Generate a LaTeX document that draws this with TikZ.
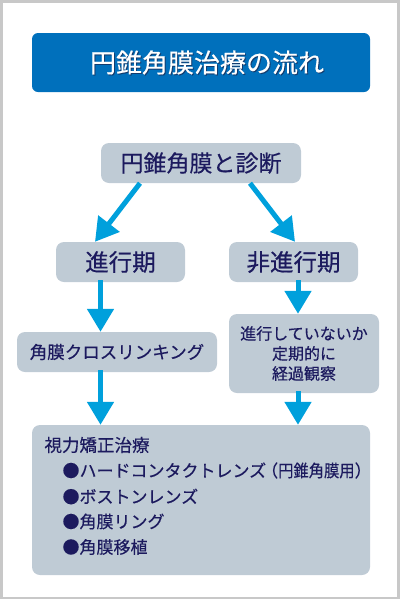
\documentclass[tikz,border=0pt]{standalone}
\usepackage{fontspec}
\setmainfont{Noto Sans CJK JP}[FakeBold=0.4]
\usepackage{xcolor}
\usetikzlibrary{arrows.meta}
\definecolor{titleblue}{HTML}{0070BC}
\definecolor{titleshade}{HTML}{143C6E}
\definecolor{boxgray}{HTML}{BFCBD5}
\definecolor{navytext}{HTML}{1C1A5E}
\definecolor{arrowblue}{HTML}{00A0DC}
\definecolor{framegray}{HTML}{C8C8C8}

\begin{document}
\begin{tikzpicture}[x=1pt,y=-1pt,
 graybox/.style={fill=boxgray, rounded corners=8pt, inner sep=0pt, text=navytext, align=center},
 itemtext/.style={anchor=west, text=navytext, font=\fontsize{17}{20}\selectfont},
 flowarrow/.style={draw=arrowblue, line width=5pt, -{Triangle[width=26pt,length=23pt]}}]
 \useasboundingbox (0,0) rectangle (400,600);
 \draw[framegray, line width=2.5pt] (1.5,1.5) rectangle (398.5,598);

 % title
 \node[fill=titleblue, rounded corners=6pt, minimum width=338pt, minimum height=59pt] (title) at (201,62.5) {};
 \node[text=titleshade, font=\fontsize{26}{30}\selectfont] at ([xshift=7,yshift=-1]title.center) {円錐角膜治療の流れ};
 \node[text=white, font=\fontsize{26}{30}\selectfont] (titletext) at ([xshift=6]title.center) {円錐角膜治療の流れ};

 % boxes
 \node[graybox, minimum width=200pt, minimum height=40pt, font=\fontsize{23}{26}\selectfont] (diag) at (201,163) {円錐角膜と診断};
 \node[graybox, minimum width=129pt, minimum height=40pt, font=\fontsize{23.5}{26}\selectfont] (prog) at (120.5,262) {進行期};
 \node[graybox, minimum width=129pt, minimum height=40pt, font=\fontsize{23.5}{26}\selectfont] (nonprog) at (293.5,262) {非進行期};
 \node[graybox, minimum width=200pt, minimum height=40pt, font=\fontsize{17.5}{20}\selectfont] (cxl) at (117,352) {角膜クロスリンキング};
 \node[graybox, minimum width=150pt, minimum height=79pt, font=\fontsize{16}{20}\selectfont] (watch) at (304,353.5) {進行していないか\\定期的に\\経過観察};
 \node[graybox, minimum width=338pt, minimum height=150pt] (treat) at (201,500) {};
 \node[itemtext, font=\fontsize{17.5}{20}\selectfont] (treathead) at (41,445) {視力矯正治療};
 \node[itemtext] (hcl) at (59,470.5) {●ハードコンタクトレンズ\kern-5pt（\scalebox{0.9}[1]{円錐角膜用}）};
 \node[itemtext] (boston) at (59,496.5) {●ボストンレンズ};
 \node[itemtext] (ring) at (59,521.5) {●角膜リング};
 \node[itemtext] (graft) at (59,547) {●角膜移植};

 % arrows
 \draw[flowarrow] ([xshift=-61]diag.south) -- ([xshift=-25.5]prog.north);
 \draw[flowarrow] ([xshift=49]diag.south) -- ([xshift=1.5]nonprog.north);
 \draw[flowarrow] ([xshift=-20,yshift=2]prog.south) -- ([xshift=-16.5]cxl.north);
 \draw[flowarrow] ([xshift=4.5,yshift=2]nonprog.south) -- ([xshift=-6]watch.north);
 \draw[flowarrow] ([xshift=-16.5,yshift=2]cxl.south) -- ([xshift=-100.5]treat.north);
 \draw[flowarrow] ([xshift=-6,yshift=2]watch.south) -- ([xshift=97]treat.north);

 %%%%%%%%%%%%%%%%%%%%%%%%%%%%%%%%%%%
\end{tikzpicture}
\end{document}
